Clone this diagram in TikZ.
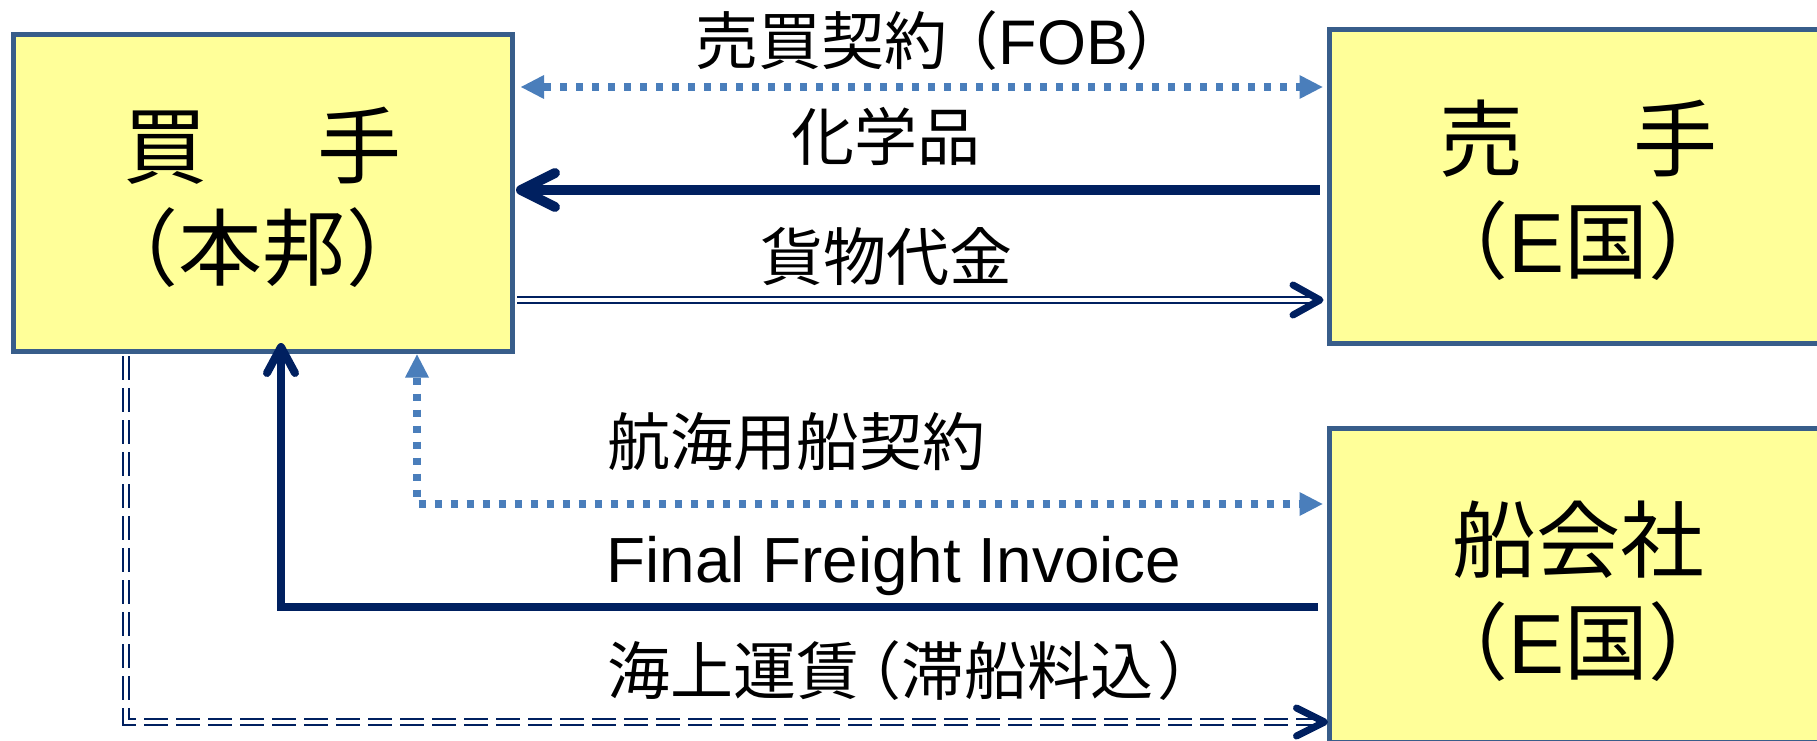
\documentclass[tikz,border=0pt]{standalone}
\usepackage{fontspec}
\setmainfont{Liberation Sans}
\newfontfamily\cjk{Noto Sans CJK JP}
\usetikzlibrary{arrows.meta,calc}
\definecolor{boxfill}{HTML}{FFFF99}
\definecolor{boxline}{HTML}{385D8A}
\definecolor{navy}{HTML}{002060}
\definecolor{dotblue}{HTML}{4A7EBB}
\newcommand\chevron[4]{\draw[chev,line width=#4] ($(#1)+(#2)$) -- (#1) -- ($(#1)+(#3)$);}
\begin{document}
\begin{tikzpicture}[x=1pt,y=-1pt,
 party/.style={draw=boxline, fill=boxfill, line width=5pt, inner sep=0pt, anchor=north west, minimum width=499pt},
 boxtext/.style={inner sep=0pt, align=center, font=\fontsize{84}{102}\selectfont\cjk},
 lbl/.style={inner sep=0pt, font=\fontsize{63}{70}\selectfont\cjk},
 latin/.style={inner sep=0pt, font=\fontsize{63.8}{70}\selectfont},
 dotarrow/.style={draw=dotblue, line width=8pt, dash pattern=on 7pt off 9pt, {Triangle[length=23pt,width=24pt,line width=0pt]}-{Triangle[length=23pt,width=24pt,line width=0pt]}},
 solidnavy/.style={draw=navy, line join=miter},
 dbl/.style={draw=navy, double=white, line width=2.3pt, double distance=3.3pt},
 dbldash/.style={dbl, dash pattern=on 24pt off 8pt},
 chev/.style={draw=navy, line cap=round, line join=round},
]
\fill[white] (0,0) rectangle (1817,741);
\useasboundingbox (0,0) rectangle (1817,741);
\clip (0,0) rectangle (1817,741);

% parties
\node[party, minimum height=316pt] (L) at (10.5,32.5) {};
\node[party, minimum height=314pt] (S) at (1326.5,27) {};
\node[party, minimum height=313.5pt] (C) at (1326.5,426) {};

\node[boxtext] (Lt) at ($(L.center)+(0,4)$) {買\hspace{110pt}手\\（本邦）};
\node[boxtext] (St) at ($(S.center)+(0,4)$) {売\hspace{110pt}手\\（{\rmfamily E}国）};
\node[boxtext] (Ct) at ($(C.center)+(0,6)$) {船会社\\（{\rmfamily E}国）};

% labels
\node[lbl, anchor=west] (tFOB) at (695.5,40.5) {売買契約\kern-12pt（{\rmfamily FOB}\kern-3pt）};
\node[lbl] (tChem) at (886,136.5) {化学品};
\node[lbl] (tPay) at (886,256.5) {貨物代金};
\node[lbl, anchor=west] (tCharter) at (607.5,441.5) {航海用船契約};
\node[latin, anchor=base west] (tInv) at (606.5,582.3) {Final Freight Invoice};
\node[lbl, anchor=west] (tFreight) at (607.5,670.5) {海上運賃\kern-21pt（滞船料込\kern4pt）};

% 1 sales contract
\draw[dotarrow] ($(L.east |- 0,87)+(6.5,0)$) -- ($(S.west |- 0,87)+(-4,0)$);

% 2 chemicals
\coordinate (tipChem) at ($(L.east |- 0,190)+(6.5,0)$);
\draw[solidnavy, line width=10pt] ($(S.west |- 0,190)+(-7,0)$) -- (tipChem);
\chevron{tipChem}{34,-17}{34,17}{10pt}

% 3 payment
\coordinate (tipPay) at ($(S.west |- 0,300)+(-6.5,0)$);
\draw[dbl] ($(L.east |- 0,300)+(2.5,0)$) -- ($(tipPay)+(-2,0)$);
\chevron{tipPay}{-27,-15}{-27,15}{7pt}

% 4 charter
\coordinate (k1) at (417,504);
\draw[dotarrow] ($(L.south -| 417,0)+(0,1)$) -- (k1) -- ($(C.west |- 0,504)+(-4,0)$);

% 5 final freight invoice
\coordinate (tipInv) at ($(L.south -| 281,0)+(0,-6.5)$);
\coordinate (k2) at (281,607);
\draw[solidnavy, line width=8pt] ($(C.west |- 0,607)+(-8.5,0)$) -- (k2) -- (tipInv);
\chevron{tipInv}{-14,26}{14,26}{8pt}

% 6 freight
\coordinate (tipFreight) at ($(C.west |- 0,722)+(-2,0)$);
\coordinate (k3) at (126,722);
\draw[dbldash] ($(L.south -| 126,0)+(0,2.5)$) -- (k3) -- ($(tipFreight)+(-3,0)$);
\chevron{tipFreight}{-28,-14}{-28,14}{7pt}
\end{tikzpicture}
\end{document}
